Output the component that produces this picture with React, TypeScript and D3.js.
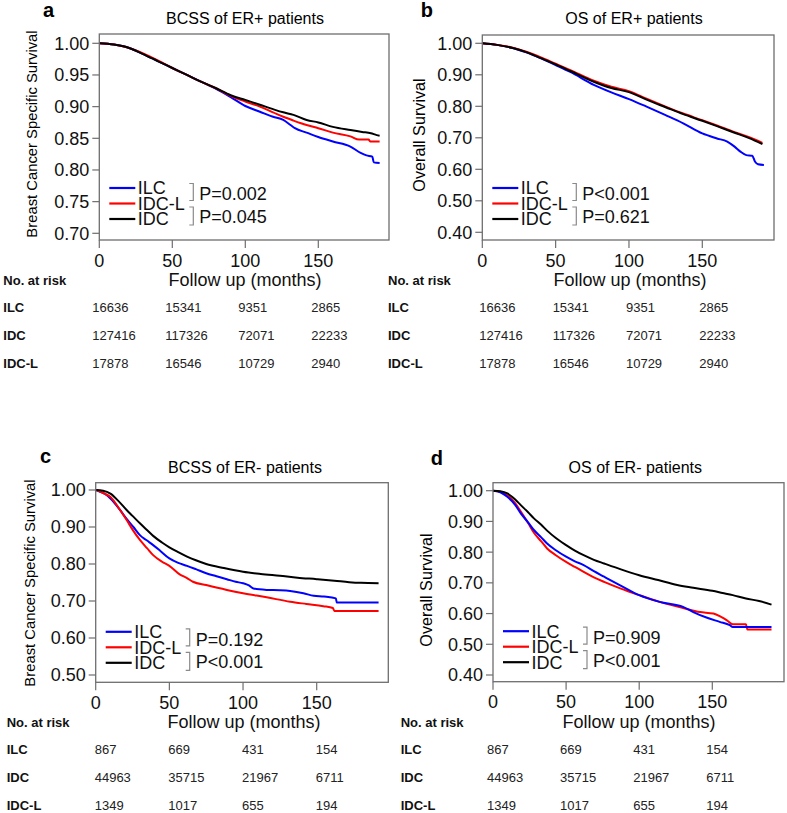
import React from 'react';
import * as d3 from 'd3';

type Pt = [number, number];

// ---------- data ----------
const GROUPS = ['ILC', 'IDC-L', 'IDC'];
const GROUP_COLORS = ['#0000ff', '#ff0000', '#000000'];
const MONTH_TICKS = [0, 50, 100, 150];
const RISK_ROWS = ['ILC', 'IDC', 'IDC-L'];

// a: BCSS of ER+ patients
const aILC: Pt[] = [[0, 1], [10, 0.998], [20, 0.993], [30, 0.983], [40, 0.972], [50, 0.961], [60, 0.95], [70, 0.939], [80, 0.928], [90, 0.915], [100, 0.901], [110, 0.892], [119, 0.884], [126, 0.879], [131, 0.871], [134, 0.866], [142, 0.859], [150, 0.852], [160, 0.845], [172, 0.837], [179, 0.827], [183, 0.823], [187, 0.821], [188, 0.812], [192, 0.811]];
const aIDCL: Pt[] = [[0, 1], [10, 0.998], [20, 0.993], [30, 0.984], [40, 0.973], [50, 0.961], [60, 0.95], [70, 0.939], [80, 0.929], [90, 0.917], [100, 0.908], [110, 0.9], [119, 0.891], [126, 0.884], [133, 0.878], [142, 0.871], [150, 0.866], [160, 0.859], [172, 0.853], [178, 0.848], [184.5, 0.848], [185.5, 0.845], [192, 0.845]];
const aIDC: Pt[] = [[0, 1], [10, 0.998], [20, 0.993], [30, 0.983], [40, 0.972], [50, 0.961], [60, 0.95], [70, 0.939], [80, 0.929], [90, 0.918], [100, 0.9105], [110, 0.903], [119, 0.896], [126, 0.891], [133, 0.887], [142, 0.879], [150, 0.875], [160, 0.868], [172, 0.863], [180, 0.86], [186, 0.858], [190, 0.855], [192, 0.854]];

// b: OS of ER+ patients
const bILC: Pt[] = [[0, 1], [10, 0.995], [20, 0.986], [30, 0.971], [40, 0.952], [50, 0.931], [60, 0.909], [76, 0.868], [88, 0.844], [100, 0.823], [112, 0.799], [125, 0.772], [137, 0.746], [150, 0.714], [160, 0.698], [167, 0.688], [172, 0.672], [176, 0.656], [180, 0.645], [184, 0.643], [186, 0.624], [188, 0.616], [192, 0.614]];
const bIDCL: Pt[] = [[0, 1], [10, 0.995], [20, 0.987], [30, 0.973], [40, 0.955], [50, 0.935], [60, 0.915], [76, 0.881], [88, 0.862], [100, 0.848], [112, 0.824], [125, 0.799], [137, 0.777], [150, 0.756], [160, 0.739], [172, 0.718], [182, 0.702], [191, 0.684]];
const bIDC: Pt[] = [[0, 1], [10, 0.995], [20, 0.986], [30, 0.972], [40, 0.953], [50, 0.933], [60, 0.912], [76, 0.878], [88, 0.858], [100, 0.845], [112, 0.821], [125, 0.797], [137, 0.775], [150, 0.754], [160, 0.737], [172, 0.716], [182, 0.699], [191, 0.68]];

// c: BCSS of ER- patients
const cILC: Pt[] = [[0, 1], [3, 0.995], [6, 0.99], [10, 0.977], [16.5, 0.946], [21, 0.922], [25.6, 0.9], [30, 0.878], [34.6, 0.864], [39, 0.851], [43.7, 0.836], [50, 0.815], [56, 0.803], [62, 0.795], [68, 0.786], [75, 0.775], [82, 0.767], [89, 0.759], [95, 0.752], [100, 0.748], [104, 0.742], [107, 0.734], [116, 0.73], [125, 0.729], [132, 0.727], [141, 0.721], [148, 0.714], [155, 0.712], [163, 0.707], [163.6, 0.696], [192, 0.696]];
const cIDCL: Pt[] = [[0, 1], [3, 0.996], [6, 0.99], [10, 0.981], [16.5, 0.946], [21, 0.919], [25, 0.893], [30, 0.865], [35, 0.842], [39, 0.824], [45, 0.806], [50, 0.795], [57, 0.772], [62, 0.762], [66, 0.752], [75, 0.743], [89, 0.73], [100, 0.721], [116, 0.71], [132, 0.698], [143, 0.692], [154.5, 0.686], [161, 0.681], [162, 0.673], [192, 0.673]];
const cIDC: Pt[] = [[0, 1], [5, 0.998], [10, 0.99], [15, 0.972], [21, 0.946], [25, 0.93], [30, 0.91], [35, 0.891], [39, 0.876], [45, 0.858], [50, 0.845], [56, 0.832], [62, 0.82], [68, 0.81], [75, 0.8], [87, 0.789], [100, 0.779], [112, 0.773], [125, 0.768], [137, 0.763], [150, 0.759], [162, 0.755], [172, 0.751], [180, 0.749], [192, 0.748]];

// d: OS of ER- patients
const dILC: Pt[] = [[0, 1], [5, 0.995], [9.8, 0.98], [15, 0.955], [19, 0.926], [24, 0.897], [28, 0.872], [33, 0.848], [37, 0.828], [43, 0.806], [50, 0.785], [56, 0.77], [62, 0.758], [69, 0.738], [76, 0.72], [87, 0.692], [100, 0.66], [114, 0.638], [130, 0.622], [137, 0.605], [146, 0.587], [155, 0.573], [162, 0.562], [164, 0.556], [190.5, 0.556]];
const dIDCL: Pt[] = [[0, 1], [5, 0.997], [9.8, 0.985], [15, 0.96], [19, 0.932], [24, 0.895], [28, 0.863], [33, 0.835], [37, 0.812], [43, 0.79], [50, 0.768], [56, 0.752], [62, 0.736], [69, 0.718], [76, 0.703], [87, 0.682], [100, 0.66], [114, 0.638], [130, 0.618], [141.6, 0.605], [150.7, 0.6], [156, 0.589], [160, 0.578], [164, 0.565], [173, 0.565], [174, 0.548], [190.5, 0.548]];
const dIDC: Pt[] = [[0, 1], [5, 0.998], [9.8, 0.991], [15, 0.972], [19, 0.953], [24, 0.93], [28, 0.91], [33, 0.889], [37, 0.87], [43, 0.846], [50, 0.823], [56, 0.805], [62, 0.79], [69, 0.775], [76, 0.763], [88, 0.743], [100, 0.725], [113, 0.709], [126, 0.693], [137, 0.684], [150, 0.674], [157, 0.667], [164, 0.66], [173, 0.649], [182, 0.641], [190.5, 0.629]];

// number at risk
const riskPosILC = [16636, 15341, 9351, 2865];
const riskPosIDC = [127416, 117326, 72071, 22233];
const riskPosIDCL = [17878, 16546, 10729, 2940];
const riskNegILC = [867, 669, 431, 154];
const riskNegIDC = [44963, 35715, 21967, 6711];
const riskNegIDCL = [1349, 1017, 655, 194];

const yTicksA = [0.7, 0.75, 0.8, 0.85, 0.9, 0.95, 1.0];
const yTicksB = [0.4, 0.5, 0.6, 0.7, 0.8, 0.9, 1.0];
const yTicksC = [0.5, 0.6, 0.7, 0.8, 0.9, 1.0];
const yTicksD = [0.4, 0.5, 0.6, 0.7, 0.8, 0.9, 1.0];

// ---------- layout ----------
const FONT = '"Liberation Sans", Arial, Helvetica, sans-serif';

interface PanelCfg {
  letter: string; letterX: number; letterY: number;
  title: string; titleX: number; titleY: number;
  box: [number, number, number, number];
  x150: number; yTopPx: number; yBotPx: number;
  yTicks: number[]; yLabel: string; yLabelX: number; yLabelY: number; yLabelSize: number;
  series: Pt[][]; order: number[];
  pvals: string[]; legendShift: number; pShift: number;
  xLabelX: number;
  risk: number[][]; riskLabelX: number; riskOffset: number;
}

const panels: PanelCfg[] = [
  {
    letter: 'a', letterX: 43, letterY: 17, title: 'BCSS of ER+ patients', titleX: 245, titleY: 23.5,
    box: [99.3, 34, 389, 240], x150: 318.3, yTopPx: 43.3, yBotPx: 233.3,
    yTicks: yTicksA, yLabel: 'Breast Cancer Specific Survival', yLabelX: 32, yLabelY: 134, yLabelSize: 14.8,
    series: [aILC, aIDCL, aIDC], order: [0, 1, 2], pvals: ['P=0.002', 'P=0.045'], legendShift: 0, pShift: 0,
    xLabelX: 245, risk: [riskPosILC, riskPosIDC, riskPosIDCL], riskLabelX: 3.3, riskOffset: -7,
  },
  {
    letter: 'b', letterX: 420.7, letterY: 17, title: 'OS of ER+ patients', titleX: 634, titleY: 24,
    box: [482.3, 35, 774, 240], x150: 702.3, yTopPx: 43.3, yBotPx: 232.3,
    yTicks: yTicksB, yLabel: 'Overall Survival', yLabelX: 419, yLabelY: 135, yLabelSize: 16.2,
    series: [bILC, bIDCL, bIDC], order: [0, 1, 2], pvals: ['P<0.001', 'P=0.621'], legendShift: 0, pShift: 0,
    xLabelX: 630, risk: [riskPosILC, riskPosIDC, riskPosIDCL], riskLabelX: 388, riskOffset: -3,
  },
  {
    letter: 'c', letterX: 40, letterY: 463, title: 'BCSS of ER- patients', titleX: 245, titleY: 473,
    box: [95.7, 482.7, 388.3, 682.3], x150: 316.7, yTopPx: 490, yBotPx: 675,
    yTicks: yTicksC, yLabel: 'Breast Cancer Specific Survival', yLabelX: 29.7, yLabelY: 583, yLabelSize: 14.8,
    series: [cILC, cIDCL, cIDC], order: [0, 1, 2], pvals: ['P=0.192', 'P<0.001'], legendShift: 1.5, pShift: 3,
    xLabelX: 244, risk: [riskNegILC, riskNegIDC, riskNegIDCL], riskLabelX: 6.7, riskOffset: -1,
  },
  {
    letter: 'd', letterX: 430.7, letterY: 465, title: 'OS of ER- patients', titleX: 635.3, titleY: 473,
    box: [493, 482.7, 784, 681.7], x150: 712.3, yTopPx: 490.7, yBotPx: 675,
    yTicks: yTicksD, yLabel: 'Overall Survival', yLabelX: 426.5, yLabelY: 590, yLabelSize: 16.2,
    series: [dILC, dIDCL, dIDC], order: [1, 0, 2], pvals: ['P=0.909', 'P<0.001'], legendShift: 1.5, pShift: 2,
    xLabelX: 639, risk: [riskNegILC, riskNegIDC, riskNegIDCL], riskLabelX: 400.7, riskOffset: -6,
  },
];

function Panel({ p }: { p: PanelCfg }) {
  const [L, T, R, B] = p.box;
  const yMin = p.yTicks[0];
  const x = d3.scaleLinear().domain([0, 150]).range([L, p.x150]);
  const y = d3.scaleLinear().domain([yMin, 1]).range([p.yBotPx, p.yTopPx]);
  const line = d3.line<Pt>().x(d => x(d[0])).y(d => y(d[1])).curve(d3.curveMonotoneX);
  const decimals = p.yTicks.some(t => Math.abs(t * 10 - Math.round(t * 10)) > 1e-6) ? 2 : 2;
  const fmt = d3.format(`.${decimals}f`);

  const legRows = [B - 52, B - 36.5, B - 21].map(v => v + p.legendShift);
  const br1: [number, number] = [B - 56.5 + p.pShift, B - 39.5 + p.pShift];
  const br2: [number, number] = [B - 33 + p.pShift, B - 15 + p.pShift];
  const pCenters = [B - 46 + p.pShift, B - 23.5 + p.pShift];
  const bx = L + 94;

  return (
    <g>
      <text x={p.letterX} y={p.letterY} fontSize={20} fontWeight="bold" fontFamily={FONT}>{p.letter}</text>
      <text x={p.titleX} y={p.titleY} fontSize={16} textAnchor="middle" fontFamily={FONT}>{p.title}</text>
      <text transform={`translate(${p.yLabelX + p.yLabelSize * 0.36},${p.yLabelY}) rotate(-90)`} fontSize={p.yLabelSize}
        textAnchor="middle" fontFamily={FONT}>{p.yLabel}</text>

      {/* curves */}
      <g fill="none" strokeWidth={2} strokeLinejoin="round">
        {p.order.map(i => (
          <path key={i} d={line(p.series[i]) || ''} stroke={GROUP_COLORS[i]} />
        ))}
      </g>

      <rect x={L} y={T} width={R - L} height={B - T} fill="none" stroke="#6e6e6e" strokeWidth={1.3} />

      {/* y axis */}
      {p.yTicks.map(t => (
        <g key={t}>
          <line x1={L - 7} x2={L} y1={y(t)} y2={y(t)} stroke="#6e6e6e" strokeWidth={1.2} />
          <text x={L - 10} y={y(t) + 6.4} fontSize={18} textAnchor="end" fontFamily={FONT} fill="#111">{fmt(t)}</text>
        </g>
      ))}

      {/* x axis */}
      {MONTH_TICKS.map(t => (
        <g key={t}>
          <line x1={x(t)} x2={x(t)} y1={B} y2={B + 8} stroke="#6e6e6e" strokeWidth={1.2} />
          <text x={x(t)} y={B + 26.5} fontSize={18} textAnchor="middle" fontFamily={FONT} fill="#111">{t}</text>
        </g>
      ))}
      <text x={p.xLabelX} y={B + 46} fontSize={18} textAnchor="middle" fontFamily={FONT} fill="#111">Follow up (months)</text>

      {/* legend */}
      {GROUPS.map((g, i) => (
        <g key={g}>
          <line x1={L + 10} x2={L + 36} y1={legRows[i]} y2={legRows[i]} stroke={GROUP_COLORS[i]} strokeWidth={2.2} />
          <text x={L + 38.5} y={legRows[i] + 6.4} fontSize={18} fontFamily={FONT} fill="#111">{g}</text>
        </g>
      ))}
      {[br1, br2].map((b, i) => (
        <path key={i} d={`M${bx - 4},${b[0]}H${bx}V${b[1]}H${bx - 4}`} fill="none" stroke="#8a8a8a" strokeWidth={1.2} />
      ))}
      {p.pvals.map((s, i) => (
        <text key={s + i} x={L + 100} y={pCenters[i] + 6.4} fontSize={18} fontFamily={FONT} fill="#111">{s}</text>
      ))}

      {/* number at risk */}
      <text x={p.riskLabelX} y={B + 45} fontSize={13} fontWeight="bold" fontFamily={FONT} fill="#111">No. at risk</text>
      {RISK_ROWS.map((r, i) => (
        <g key={r}>
          <text x={p.riskLabelX} y={B + 72 + i * 28} fontSize={13} fontWeight="bold" fontFamily={FONT} fill="#111">{r}</text>
          {p.risk[i].map((n, j) => (
            <text key={j} x={x(MONTH_TICKS[j]) + p.riskOffset} y={B + 72 + i * 28} fontSize={13} fontFamily={FONT} fill="#222">{n}</text>
          ))}
        </g>
      ))}
    </g>
  );
}

export default function App() {
  return (
    <svg width={787} height={813} viewBox="0 0 787 813"
      style={{ position: 'absolute', left: 0, top: 0, background: '#fff' }}>
      <rect x={0} y={0} width={787} height={813} fill="#fff" />
      {panels.map(p => <Panel key={p.letter} p={p} />)}
    </svg>
  );
}
